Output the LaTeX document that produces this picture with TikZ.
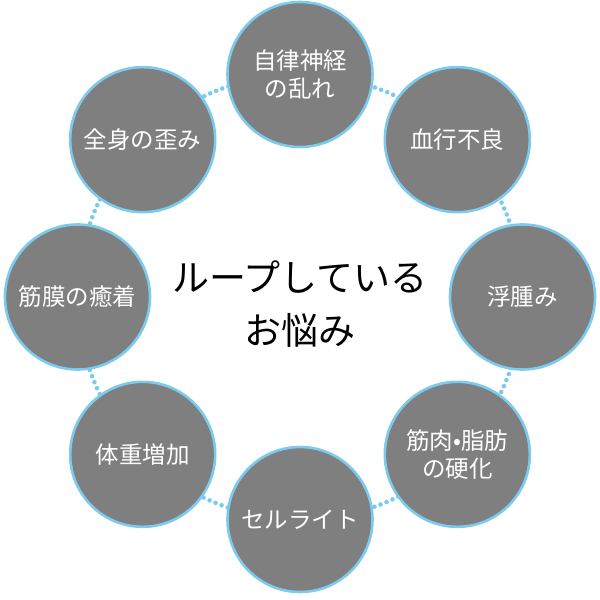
\documentclass[tikz,border=0pt]{standalone}
\usepackage{fontspec}
\usetikzlibrary{calc}
\setmainfont{Noto Sans CJK JP}
\definecolor{ringblue}{HTML}{7CCBEE}
\definecolor{circgray}{HTML}{7F7F7F}
\begin{document}
\begin{tikzpicture}[x=1pt,y=1pt,
  item/.style={circle,draw=ringblue,line width=2.6pt,fill=circgray,minimum size=145pt,inner sep=0pt,
    text=white,font=\fontsize{23.5}{28}\selectfont,align=center},
  ringdots/.style={draw=ringblue,line width=4.6pt,line cap=round,dash pattern=on 0pt off 6.5pt}]
\useasboundingbox (0,0) rectangle (600,600);
\coordinate (c) at (300,303);
\draw[ringdots] (c) circle (222.5);
\node[item] (n1) at ($(c)+(90:222.5)$) {自律神経\\の乱れ};
\node[item] (n2) at ($(c)+(45:222.5)$) {血行不良};
\node[item] (n3) at ($(c)+(0:222.5)$) {浮腫み};
\node[item] (n4) at ($(c)+(-45:222.5)$) {筋肉•脂肪\\の硬化};
\node[item] (n5) at ($(c)+(-90:222.5)$) {セルライト};
\node[item] (n6) at ($(c)+(-135:222.5)$) {体重増加};
\node[item] (n7) at ($(c)+(180:222.5)$) {筋膜の癒着};
\node[item] (n8) at ($(c)+(135:222.5)$) {全身の歪み};
\node[font=\fontsize{37}{53}\selectfont,align=center,text=black] (t) at (300,296) {ループしている\\お悩み};
\end{tikzpicture}
\end{document}
